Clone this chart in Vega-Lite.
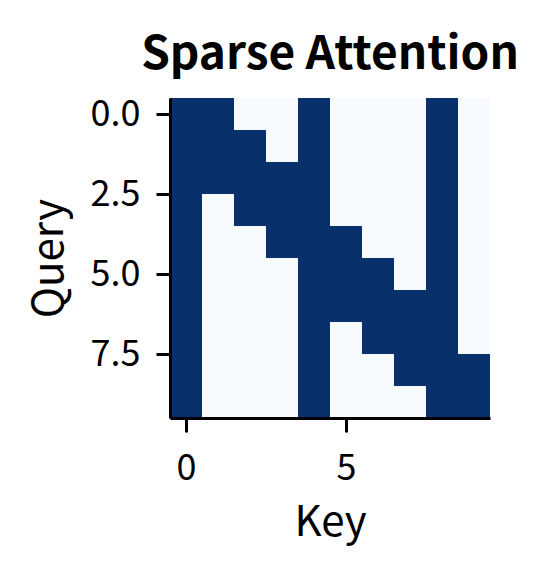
{
  "$schema": "https://vega.github.io/schema/vega-lite/v6.json",
  "width": 320,
  "height": 320,
  "autosize": {"type": "none"},
  "padding": {"left": 170, "top": 98, "right": 58, "bottom": 156},
  "background": "white",
  "config": {
    "view": {"stroke": null},
    "font": "Noto Sans CJK SC"
  },
  "title": {
    "text": "Sparse Attention",
    "font": "Noto Sans CJK SC",
    "fontSize": 46,
    "fontWeight": "bold",
    "color": "black",
    "frame": "group",
    "anchor": "middle",
    "baseline": "alphabetic",
    "offset": 31,
    "dy": 50
  },
  "data": {
    "values": [
      {"i":0,"j":0,"v":1},{"i":0,"j":1,"v":1},{"i":0,"j":2,"v":0},{"i":0,"j":3,"v":0},{"i":0,"j":4,"v":1},{"i":0,"j":5,"v":0},{"i":0,"j":6,"v":0},{"i":0,"j":7,"v":0},{"i":0,"j":8,"v":1},{"i":0,"j":9,"v":0},
      {"i":1,"j":0,"v":1},{"i":1,"j":1,"v":1},{"i":1,"j":2,"v":1},{"i":1,"j":3,"v":0},{"i":1,"j":4,"v":1},{"i":1,"j":5,"v":0},{"i":1,"j":6,"v":0},{"i":1,"j":7,"v":0},{"i":1,"j":8,"v":1},{"i":1,"j":9,"v":0},
      {"i":2,"j":0,"v":1},{"i":2,"j":1,"v":1},{"i":2,"j":2,"v":1},{"i":2,"j":3,"v":1},{"i":2,"j":4,"v":1},{"i":2,"j":5,"v":0},{"i":2,"j":6,"v":0},{"i":2,"j":7,"v":0},{"i":2,"j":8,"v":1},{"i":2,"j":9,"v":0},
      {"i":3,"j":0,"v":1},{"i":3,"j":1,"v":0},{"i":3,"j":2,"v":1},{"i":3,"j":3,"v":1},{"i":3,"j":4,"v":1},{"i":3,"j":5,"v":0},{"i":3,"j":6,"v":0},{"i":3,"j":7,"v":0},{"i":3,"j":8,"v":1},{"i":3,"j":9,"v":0},
      {"i":4,"j":0,"v":1},{"i":4,"j":1,"v":0},{"i":4,"j":2,"v":0},{"i":4,"j":3,"v":1},{"i":4,"j":4,"v":1},{"i":4,"j":5,"v":1},{"i":4,"j":6,"v":0},{"i":4,"j":7,"v":0},{"i":4,"j":8,"v":1},{"i":4,"j":9,"v":0},
      {"i":5,"j":0,"v":1},{"i":5,"j":1,"v":0},{"i":5,"j":2,"v":0},{"i":5,"j":3,"v":0},{"i":5,"j":4,"v":1},{"i":5,"j":5,"v":1},{"i":5,"j":6,"v":1},{"i":5,"j":7,"v":0},{"i":5,"j":8,"v":1},{"i":5,"j":9,"v":0},
      {"i":6,"j":0,"v":1},{"i":6,"j":1,"v":0},{"i":6,"j":2,"v":0},{"i":6,"j":3,"v":0},{"i":6,"j":4,"v":1},{"i":6,"j":5,"v":1},{"i":6,"j":6,"v":1},{"i":6,"j":7,"v":1},{"i":6,"j":8,"v":1},{"i":6,"j":9,"v":0},
      {"i":7,"j":0,"v":1},{"i":7,"j":1,"v":0},{"i":7,"j":2,"v":0},{"i":7,"j":3,"v":0},{"i":7,"j":4,"v":1},{"i":7,"j":5,"v":0},{"i":7,"j":6,"v":1},{"i":7,"j":7,"v":1},{"i":7,"j":8,"v":1},{"i":7,"j":9,"v":0},
      {"i":8,"j":0,"v":1},{"i":8,"j":1,"v":0},{"i":8,"j":2,"v":0},{"i":8,"j":3,"v":0},{"i":8,"j":4,"v":1},{"i":8,"j":5,"v":0},{"i":8,"j":6,"v":0},{"i":8,"j":7,"v":1},{"i":8,"j":8,"v":1},{"i":8,"j":9,"v":1},
      {"i":9,"j":0,"v":1},{"i":9,"j":1,"v":0},{"i":9,"j":2,"v":0},{"i":9,"j":3,"v":0},{"i":9,"j":4,"v":1},{"i":9,"j":5,"v":0},{"i":9,"j":6,"v":0},{"i":9,"j":7,"v":0},{"i":9,"j":8,"v":1},{"i":9,"j":9,"v":1}
    ]
  },
  "mark": {"type": "rect", "width": 32, "height": 32, "strokeWidth": 0},
  "encoding": {
    "x": {
      "field": "j",
      "type": "quantitative",
      "scale": {"domain": [-0.5, 9.5], "nice": false, "zero": false},
      "axis": {
        "title": "Key",
        "values": [0, 5],
        "format": "d",
        "grid": false,
        "zindex": 1,
        "domainColor": "black",
        "domainWidth": 3,
        "tickColor": "black",
        "tickWidth": 3,
        "tickSize": 14,
        "labelFont": "Noto Sans CJK SC",
        "labelFontSize": 36,
        "labelColor": "black",
        "labelBaseline": "alphabetic",
        "labelPadding": 47,
        "labelFlush": false,
        "labelOverlap": false,
        "titleFont": "Noto Sans CJK SC",
        "titleFontSize": 42,
        "titleFontWeight": "normal",
        "titleColor": "black",
        "titleBaseline": "alphabetic",
        "titleY": 117
      }
    },
    "y": {
      "field": "i",
      "type": "quantitative",
      "scale": {"domain": [-0.5, 9.5], "nice": false, "zero": false, "reverse": true},
      "axis": {
        "title": "Query",
        "values": [0, 2.5, 5, 7.5],
        "format": ".1f",
        "grid": false,
        "zindex": 1,
        "domainColor": "black",
        "domainWidth": 3,
        "tickColor": "black",
        "tickWidth": 3,
        "tickSize": 14,
        "labelFont": "Noto Sans CJK SC",
        "labelFontSize": 36,
        "labelColor": "black",
        "labelPadding": 16,
        "labelFlush": false,
        "labelOverlap": false,
        "titleFont": "Noto Sans CJK SC",
        "titleFontSize": 42,
        "titleFontWeight": "normal",
        "titleColor": "black",
        "titleBaseline": "alphabetic",
        "titleAngle": -90,
        "titleX": -108
      }
    },
    "color": {
      "field": "v",
      "type": "quantitative",
      "scale": {"domain": [0, 1], "range": ["#f7fbff", "#08306b"]},
      "legend": null
    }
  }
}
